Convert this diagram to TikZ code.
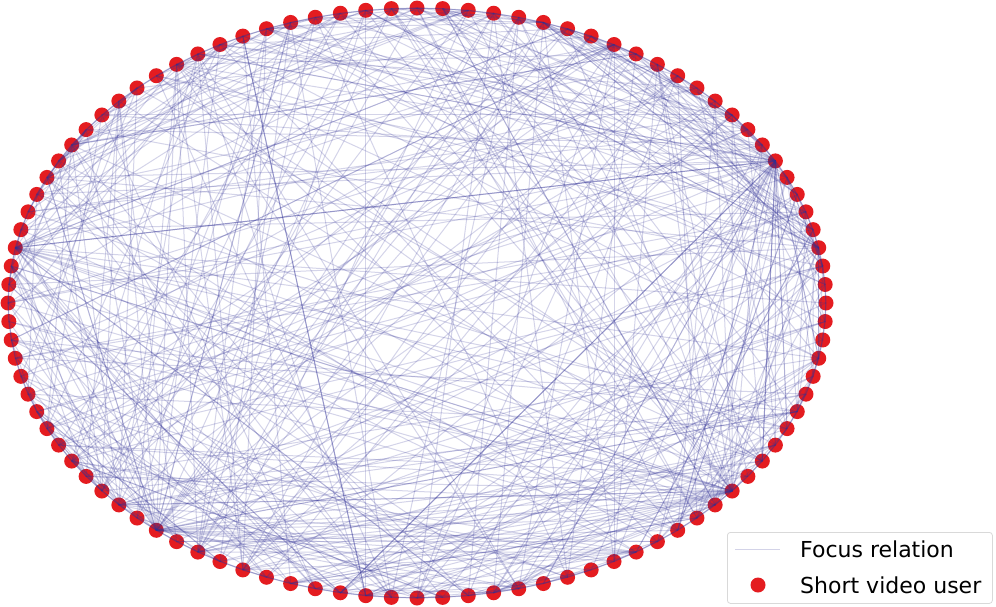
\documentclass[tikz,border=0pt]{standalone}
\usepackage{fontspec}
\setmainfont{DejaVu Sans}
\definecolor{userred}{RGB}{228,28,32}
\definecolor{edgeblue}{RGB}{50,50,150}
\begin{document}
\begin{tikzpicture}[x=1pt,y=-1pt,
  userdot/.style={circle,fill=userred,inner sep=0pt,minimum size=15pt},
  relation/.style={edgeblue,opacity=0.21,line width=1pt},
  legendbox/.style={draw=black!15,rounded corners=3pt,fill=white,line width=0.8pt,inner sep=0pt},
  legendtext/.style={anchor=west,font=\fontsize{22}{26}\selectfont,inner sep=0pt}]
\useasboundingbox (0,0) rectangle (996,606);
\foreach \i in {0,...,99}{
  \node[userdot] (n\i) at ({417+409*cos(3.6*\i)},{303-295*sin(3.6*\i)}) {};
}
\pgfmathsetseed{4711}
% ring of neighbour relations
\foreach \i in {0,...,99}{
  \pgfmathtruncatemacro\j{mod(\i+1,100)}
  \draw[relation] (n\i.center) -- (n\j.center);
  \pgfmathtruncatemacro\k{mod(\i+2,100)}
  \draw[relation] (n\i.center) -- (n\k.center);
}
% random relations
\foreach \e in {1,...,380}{
  \pgfmathtruncatemacro\a{random(0,99)}
  \pgfmathtruncatemacro\b{mod(\a+random(3,97),100)}
  \draw[relation] (n\a.center) -- (n\b.center);
}
% hub users
\foreach \h/\m in {8/30,64/30,89/22,47/15,35/10}{
  \foreach \e in {1,...,\m}{
    \pgfmathtruncatemacro\b{mod(\h+random(12,88),100)}
    \draw[relation] (n\h.center) -- (n\b.center);
  }
}
% legend
\node[legendbox, minimum width=265pt, minimum height=71pt, anchor=north west] (legend) at (727,532) {};
\coordinate (ls) at (735,549);
\coordinate (le) at (780,549);
\draw[relation] (ls) -- (le);
\node[userdot] (ld) at (758,585) {};
\node[legendtext] (lt1) at (800,549) {Focus relation};
\node[legendtext] (lt2) at (800,585) {Short video user};
\end{tikzpicture}
\end{document}
